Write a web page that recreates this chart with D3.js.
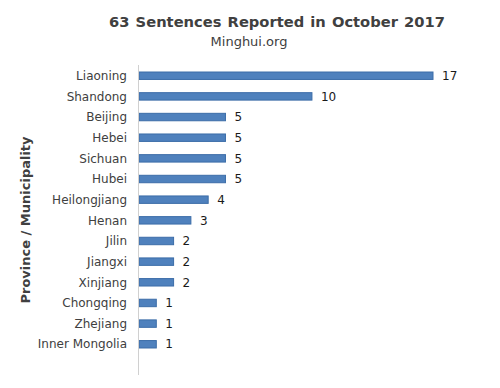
<!DOCTYPE html>
<html>
<head>
<meta charset="utf-8">
<script src="https://cdn.jsdelivr.net/npm/d3@7"></script>
<style>
  body { margin: 0; background: #fff; }
  text { font-family: "DejaVu Sans", Verdana, sans-serif; fill: #404040; }
</style>
</head>
<body>
<svg id="chart" width="500" height="388"></svg>
<script>
// provinces and sentence counts
let provinces = ["Liaoning", "Shandong", "Beijing", "Hebei", "Sichuan", "Hubei",
  "Heilongjiang", "Henan", "Jilin", "Jiangxi", "Xinjiang", "Chongqing", "Zhejiang", "Inner Mongolia"]
let counts = [17, 10, 5, 5, 5, 5, 4, 3, 2, 2, 2, 1, 1, 1]

let svg = d3.select("#chart")

let left = 139
let x = d3.scaleLinear().domain([0, 17]).range([left, 433])
let y = d3.scaleBand().domain(provinces).range([65.4, 354.6]).paddingInner(0.64).paddingOuter(0.32)

// title
svg.append("text").attr("x", 277).attr("y", 27).attr("text-anchor", "middle")
  .style("font-size", "14.7px").style("font-weight", "bold").style("word-spacing", "1px")
  .text("63 Sentences Reported in October 2017")
svg.append("text").attr("x", 249).attr("y", 46).attr("text-anchor", "middle")
  .style("font-size", "13px")
  .text("Minghui.org")

// y axis title
svg.append("text").attr("transform", "translate(30,220) rotate(-90)")
  .attr("text-anchor", "middle").style("font-size", "13px").style("font-weight", "bold")
  .text("Province / Municipality")

// bars
svg.selectAll("rect.bar").data(provinces).enter().append("rect")
  .attr("class", "bar")
  .attr("x", x(0))
  .attr("y", d => y(d))
  .attr("width", (d, i) => x(counts[i]) - x(0))
  .attr("height", y.bandwidth())
  .attr("fill", "#4F81BD")
  .attr("stroke", "#3C6DA8")
  .attr("stroke-width", 1)

// category labels
svg.selectAll("text.cat").data(provinces).enter().append("text")
  .attr("class", "cat")
  .attr("x", 127)
  .attr("y", d => y(d) + y.bandwidth() / 2)
  .attr("dy", "0.35em")
  .attr("text-anchor", "end")
  .style("font-size", "12px")
  .text(d => d)

// value labels
svg.selectAll("text.val").data(provinces).enter().append("text")
  .attr("class", "val")
  .attr("x", (d, i) => x(counts[i]) + 9)
  .attr("y", d => y(d) + y.bandwidth() / 2)
  .attr("dy", "0.35em")
  .style("font-size", "12px")
  .style("fill", "#1a1a1a")
  .text((d, i) => counts[i])

// axis line
svg.append("line").attr("x1", left - 0.5).attr("x2", left - 0.5)
  .attr("y1", 65).attr("y2", 375)
  .attr("stroke", "#d0d0d0").attr("stroke-width", 1)
</script>
</body>
</html>
